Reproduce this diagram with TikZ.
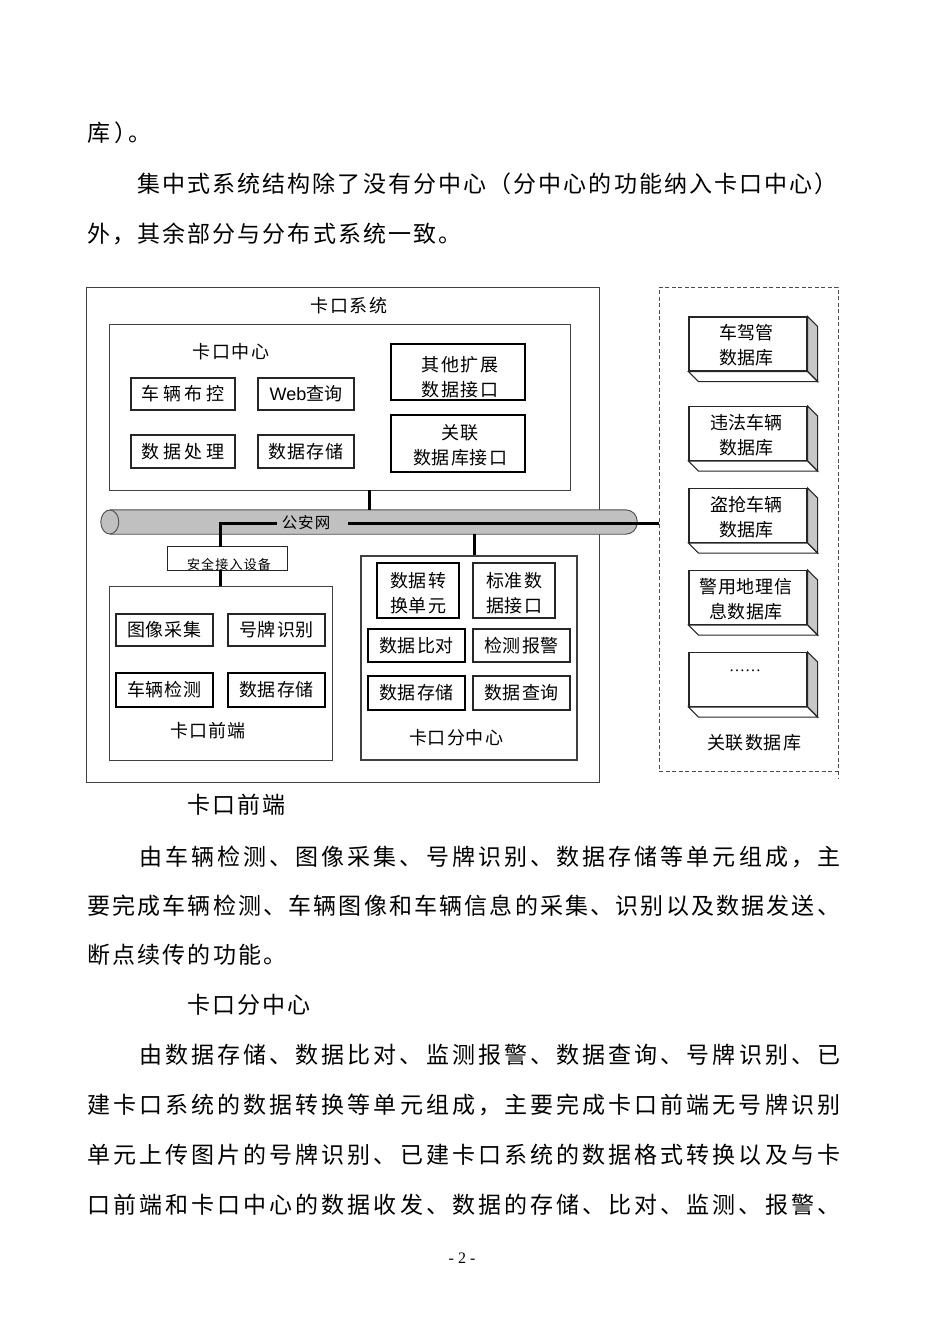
\documentclass[tikz,border=0pt]{standalone}
\usepackage{fontspec}
\setmainfont{Noto Sans CJK SC}
\newfontfamily\latsans{Liberation Sans}
\newfontfamily\latserif{Liberation Serif}
\ExplSyntaxOn
\NewDocumentCommand\spc{mm}{\tl_map_inline:nn{#2}{\makebox[#1][c]{##1}}}
\NewDocumentCommand\spl{mm}{\tl_map_inline:nn{#2}{\makebox[#1][l]{##1}}}
\ExplSyntaxOff
\definecolor{pipegray}{RGB}{192,192,192}
\definecolor{sidegray}{RGB}{200,200,200}
\tikzset{
  body/.style={anchor=west, inner sep=0pt, font=\fontsize{23}{23}\selectfont},
  lab/.style={inner sep=0pt, font=\fontsize{18}{25}\selectfont, align=center},
  sz/.style 2 args={minimum width=#1pt, minimum height=#2pt},
  outerbox/.style={draw=black!75, line width=0.9pt, inner sep=0pt},
  ibox/.style={draw=black!85, line width=1.1pt, inner sep=0pt},
  tbox/.style={draw=black, line width=1.6pt, inner sep=0pt},
  conn/.style={line width=3pt, black},
  dbfront/.style={draw=black!85, line width=1.1pt, fill=white, inner sep=0pt, minimum width=118pt, minimum height=54pt},
  dbside/.style={draw=black!85, line width=1.1pt, fill=sidegray},
  dbbottom/.style={draw=black!85, line width=1.1pt, fill=white},
}
\begin{document}
\begin{tikzpicture}[x=1pt,y=-1pt]
\useasboundingbox (0,0) rectangle (950,1344);
\fill[white] (0,0) rectangle (950,1344);

% ---------- body text ----------
\node[body] (t1) at (87,133) {\makebox[27pt][l]{库}\makebox[14pt][l]{）}。};
\node[body] (t2) at (137,184) {\spl{25.1pt}{集中式系统结构除了没有分中心（分中心的功能纳入卡口中心）}};
\node[body] (t3) at (87,234) {\spl{25.1pt}{外，其余部分与分布式系统一致。}};
\node[body] (t4) at (187,805) {\spl{25.1pt}{卡口前端}};
\node[body] (t5) at (139,857) {\spl{26.08pt}{由车辆检测、图像采集、号牌识别、数据存储等单元组成，主}};
\node[body] (t6) at (87,906) {\spl{25.17pt}{要完成车辆检测、车辆图像和车辆信息的采集、识别以及数据发送、}};
\node[body] (t7) at (87,955) {\spl{25.17pt}{断点续传的功能。}};
\node[body] (t8) at (187,1005) {\spl{25.1pt}{卡口分中心}};
\node[body] (t9) at (139,1055) {\spl{26.08pt}{由数据存储、数据比对、监测报警、数据查询、号牌识别、已}};
\node[body] (t10) at (87,1105) {\spl{26.07pt}{建卡口系统的数据转换等单元组成，主要完成卡口前端无号牌识别}};
\node[body] (t11) at (87,1155) {\spl{26.07pt}{单元上传图片的号牌识别、已建卡口系统的数据格式转换以及与卡}};
\node[body] (t12) at (87,1205) {\spl{26.07pt}{口前端和卡口中心的数据收发、数据的存储、比对、监测、报警、}};
\node[inner sep=0pt, font=\latserif\fontsize{16}{16}\selectfont] (pg) at (462,1258) {- 2 -};

% ---------- outer system ----------
\node[outerbox, sz={513}{495}] (xt) at (342.5,534.5) {};
\node[lab] (xtt) at (349,306) {\spc{20pt}{卡口系统}};

% 卡口中心
\node[outerbox, sz={461}{166}] (zx) at (339.5,407) {};
\node[lab] (zxt) at (231,352) {\spc{20pt}{卡口中心}};
\node[ibox, sz={104}{32}, lab] (bk) at (183,394) {\spc{21.5pt}{车辆布控}};
\node[ibox, sz={96}{32}, lab] (wq) at (306,394) {{\latsans Web}查询};
\node[ibox, sz={104}{33}, lab] (sc) at (183,451.5) {\spc{21.5pt}{数据处理}};
\node[ibox, sz={96}{33}, lab] (cc) at (306,451.5) {\spc{19pt}{数据存储}};
\node[tbox, sz={134}{56}] (qt) at (458,372) {};
\node[lab] (qtt) at (460,377) {\spc{19.5pt}{其他扩展}\\\spc{19.5pt}{数据接口}};
\node[tbox, sz={134}{57}] (gl) at (458,443.5) {};
\node[lab] (glt) at (460,445) {\spc{19pt}{关联}\\\spc{19pt}{数据库接口}};

% 卡口前端
\node[outerbox, sz={223}{174}] (qd) at (220.5,673) {};
\node[lab] (qdt) at (208,731) {\spc{19pt}{卡口前端}};
\node[ibox, sz={97}{32}, lab] (tx) at (164.5,630) {\spc{19pt}{图像采集}};
\node[ibox, sz={97}{32}, lab] (hp) at (276.5,630) {\spc{19pt}{号牌识别}};
\node[tbox, sz={97}{34}, lab] (jc) at (164.5,690) {\spc{19pt}{车辆检测}};
\node[tbox, sz={97}{34}, lab] (qcc) at (276.5,690) {\spc{19pt}{数据存储}};

% 安全接入设备
\node[sz={119}{23}, inner sep=0pt] (aq) at (227.5,558.5) {};
\begin{scope}
  \clip (aq.north west) rectangle (aq.south east);
  \node[inner sep=0pt, font=\fontsize{13}{13}\selectfont] (aqt) at (229,564) {\spc{14.2pt}{安全接入设备}};
\end{scope}
\draw[draw=black!85, line width=1pt] (aq.north west) rectangle (aq.south east);

% 卡口分中心
\node[outerbox, line width=1.2pt, sz={216}{204}] (fzx) at (469,658) {};
\node[lab] (fzxt) at (456,738) {\spc{19pt}{卡口分中心}};
\node[tbox, sz={82}{55}] (zh) at (418,590.5) {};
\node[lab] (zht) at (418,593) {\spc{19pt}{数据转}\\\spc{19pt}{换单元}};
\node[ibox, sz={82}{55}] (bz) at (514,590.5) {};
\node[lab] (bzt) at (514,593) {\spc{19pt}{标准数}\\\spc{19pt}{据接口}};
\node[tbox, sz={97}{33}, lab] (bd) at (416.5,645.5) {\spc{19pt}{数据比对}};
\node[ibox, sz={97}{33}, lab] (bj) at (521.5,645.5) {\spc{19pt}{检测报警}};
\node[tbox, sz={97}{34}, lab] (fcc) at (416.5,693) {\spc{19pt}{数据存储}};
\node[ibox, sz={97}{34}, lab] (cx) at (521.5,693) {\spc{19pt}{数据查询}};

% ---------- 关联数据库 ----------
\node[draw=black!70, dash pattern=on 4pt off 2.5pt, line width=0.9pt, sz={179}{484}, inner sep=0pt] (glk) at (748.5,529) {};
\draw[draw=black!70, dash pattern=on 4pt off 2.5pt, line width=0.9pt] (glk.south east) -- ([yshift=-8pt]glk.south east);
\node[lab] (glkt) at (754,743) {\spc{19pt}{关联数据库}};

\foreach \n/\y in {db1/344, db2/433.5, db3/515.5, db4/597.5, db5/679.5}{
  \node[dbfront] (\n) at (748,\y) {};
  \filldraw[dbside] (\n.north east) -- ([shift={(10,10)}]\n.north east) -- ([shift={(10,10)}]\n.south east) -- (\n.south east) -- cycle;
  \filldraw[dbbottom] (\n.south west) -- (\n.south east) -- ([shift={(10,10)}]\n.south east) -- ([shift={(10,10)}]\n.south west) -- cycle;
}
\node[lab] (db1t) at (746,345) {\spc{18pt}{车驾管}\\\spc{18pt}{数据库}};
\node[lab] (db2t) at (746,435.5) {\spc{18pt}{违法车辆}\\\spc{18pt}{数据库}};
\node[lab] (db3t) at (746,517) {\spc{18pt}{盗抢车辆}\\\spc{18pt}{数据库}};
\node[lab] (db4t) at (746,599.5) {\spc{18.6pt}{警用地理信}\\\spc{18.6pt}{息数据库}};
\node[inner sep=0pt, font=\latserif\fontsize{16}{16}\selectfont] (db5t) at (745,671) {……};

% ---------- 公安网 pipe ----------
\node[sz={536}{24}, inner sep=0pt] (pipe) at (369,522) {};
\filldraw[fill=pipegray, draw=black!70, line width=0.9pt, rounded corners=11.5pt]
  ([xshift=9pt]pipe.north west) -- (pipe.north east) -- (pipe.south east) -- ([xshift=9pt]pipe.south west);
\filldraw[fill=pipegray, draw=black!70, line width=0.9pt] ([xshift=9pt]pipe.west) ellipse (9pt and 12pt);
\node[inner sep=0pt, font=\fontsize{15.5}{15.5}\selectfont] (gaw) at (306,523) {\spc{16.5pt}{公安网}};

% ---------- connectors ----------
\draw[conn] (369,0 |- zx.south) -- (369,0 |- pipe.north);
\draw[conn] (474,0 |- pipe.south) -- (474,0 |- fzx.north);
\draw[conn] (220,0 |- aq.north) -- (220,0 |- gaw.west) -- ([xshift=-4pt]gaw.west);
\draw[conn] ([xshift=17pt]gaw.east) -- (gaw.east -| glk.west);
\draw[conn] (220,0 |- aq.south) -- (220,0 |- qd.north);
\end{tikzpicture}
\end{document}
